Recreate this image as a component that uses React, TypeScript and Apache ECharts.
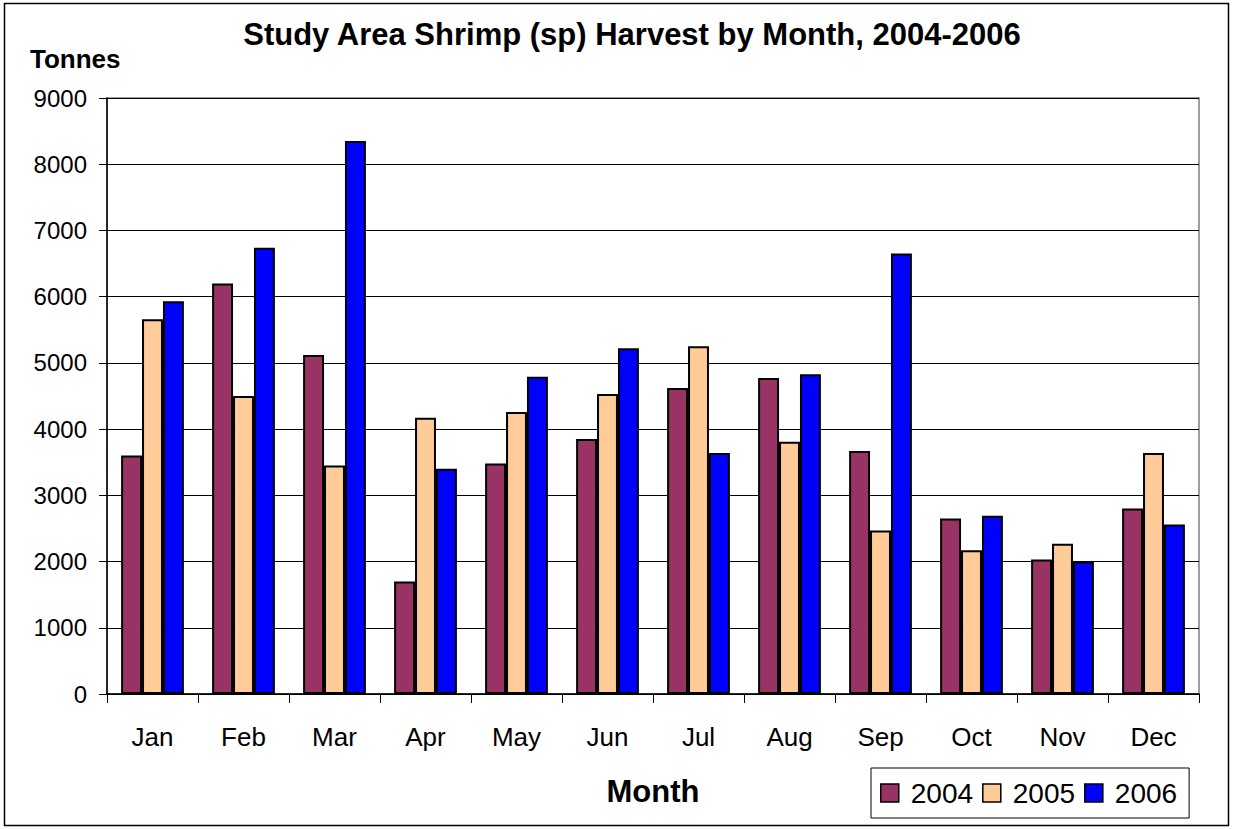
import React, { useEffect, useRef } from "react";
import * as echarts from "echarts";

const months = ["Jan", "Feb", "Mar", "Apr", "May", "Jun", "Jul", "Aug", "Sep", "Oct", "Nov", "Dec"];
const years = ["2004", "2005", "2006"];
const values2004 = [3600, 6200, 5120, 1700, 3480, 3850, 4620, 4770, 3670, 2650, 2030, 2800];
const values2005 = [5660, 4500, 3450, 4170, 4260, 4530, 5250, 3810, 2470, 2170, 2270, 3640];
const values2006 = [5930, 6740, 8350, 3400, 4790, 5220, 3640, 4830, 6650, 2690, 2000, 2560];
const colors = ["#993366", "#FFCC99", "#0000FF"];
const yTicks = { min: 0, max: 9000, interval: 1000 };

const FONT = "'Liberation Sans', Arial, sans-serif";

export default function App() {
  const ref = useRef<HTMLDivElement>(null);
  useEffect(() => {
    document.body.style.margin = "0";
    const chart = echarts.init(ref.current!, null, { renderer: "svg" });
    const seriesData = [values2004, values2005, values2006];
    chart.setOption({
      animation: false,
      backgroundColor: "#ffffff",
      textStyle: { fontFamily: FONT, color: "#000" },
      grid: {
        left: 107,
        right: 34,
        top: 98,
        bottom: 135,
        show: true,
        borderColor: "#808080",
        borderWidth: 1.5,
        backgroundColor: "transparent",
      },
      legend: {
        left: 871,
        top: 768,
        orient: "horizontal",
        data: years,
        icon: "rect",
        itemWidth: 18,
        itemHeight: 18,
        itemGap: 9,
        padding: [11, 12, 11, 9],
        borderColor: "#000",
        borderWidth: 1,
        itemStyle: { borderColor: "#000", borderWidth: 1.5 },
        textStyle: { fontSize: 28, fontFamily: FONT, color: "#000", padding: [0, 0, 0, 7] },
      },
      xAxis: {
        type: "category",
        data: months,
        name: "Month",
        nameLocation: "middle",
        nameGap: 82,
        nameTextStyle: { fontSize: 31, fontWeight: "bold", fontFamily: FONT, color: "#000" },
        axisLine: { show: true, lineStyle: { color: "#000", width: 1.5 } },
        axisTick: { show: true, alignWithLabel: false, length: 9, lineStyle: { color: "#000", width: 1 } },
        axisLabel: { fontSize: 26, color: "#000", margin: 30, fontFamily: FONT },
        splitLine: { show: false },
      },
      yAxis: {
        type: "value",
        min: yTicks.min,
        max: yTicks.max,
        interval: yTicks.interval,
        axisLine: { show: true, lineStyle: { color: "#000", width: 1.5 } },
        axisTick: { show: true, length: 8, lineStyle: { color: "#000", width: 1 } },
        axisLabel: {
          fontSize: 24,
          color: "#000",
          margin: 20,
          fontFamily: FONT,
          formatter: (v: number) => String(v),
        },
        splitLine: { show: true, lineStyle: { color: "#000", width: 1 } },
      },
      graphic: [
        {
          type: "rect",
          shape: { x: 4.5, y: 3.5, width: 1224, height: 822 },
          style: { fill: "none", stroke: "#000", lineWidth: 1.5 },
          silent: true,
          z: 100,
        },
        {
          type: "text",
          x: 632,
          y: 34,
          style: {
            text: "Study Area Shrimp (sp) Harvest by Month, 2004-2006",
            font: `bold 31px ${FONT}`,
            fill: "#000",
            align: "center",
            verticalAlign: "middle",
          },
        },
        {
          type: "text",
          x: 30,
          y: 59,
          style: {
            text: "Tonnes",
            font: `bold 26px ${FONT}`,
            fill: "#000",
            align: "left",
            verticalAlign: "middle",
          },
        },
      ],
      series: years.map((y, i) => ({
        name: y,
        type: "bar",
        data: seriesData[i],
        barGap: "0%",
        barCategoryGap: "31%",
        itemStyle: { color: colors[i], borderColor: "#000", borderWidth: 2 },
      })),
    });
    return () => chart.dispose();
  }, []);
  return <div ref={ref} style={{ position: "absolute", left: 0, top: 0, width: 1233, height: 829 }} />;
}
